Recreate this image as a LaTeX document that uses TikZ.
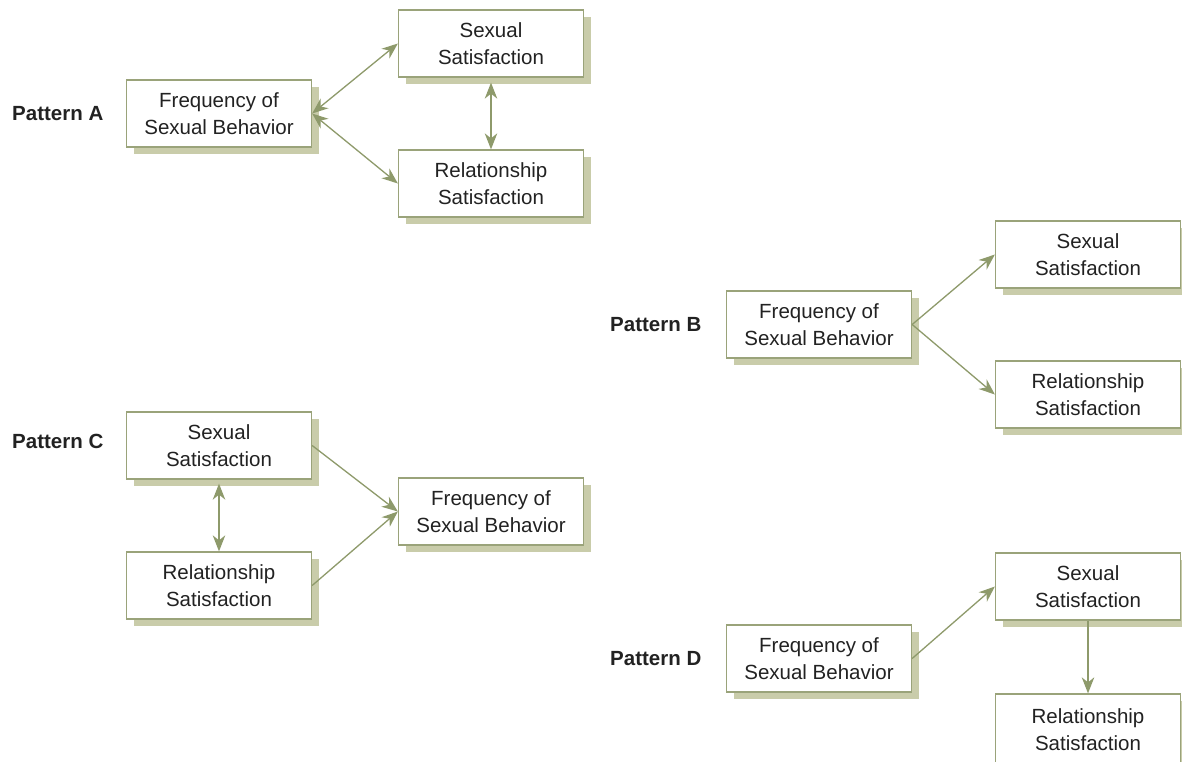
\documentclass[tikz,border=0pt]{standalone}
\usepackage{fontspec}
\setmainfont{Liberation Sans}
\usetikzlibrary{arrows.meta,shadows}
\definecolor{boxc}{HTML}{9AA37A}
\definecolor{shadowc}{HTML}{C9CCAA}
\definecolor{arrc}{HTML}{8E9A6B}
\definecolor{txtc}{HTML}{222222}
\tikzset{
  box/.style={draw=boxc, fill=white, line width=1.3pt, minimum width=185pt,
    minimum height=67pt, inner sep=0pt, align=center, text=txtc,
    font=\fontsize{20.5}{26.5}\selectfont,
    general shadow={fill=shadowc, shadow xshift=7pt, shadow yshift=-7pt}},
  plabel/.style={anchor=west, inner sep=0pt, text=txtc,
    font=\fontsize{20.5}{24}\selectfont\bfseries},
  conn/.style={draw=arrc, line width=1.3pt},
  tip/.style={-{Stealth[length=16pt,width=12.5pt,inset=5pt]}},
  dtip/.style={{Stealth[length=16pt,width=12.5pt,inset=5pt]}-{Stealth[length=16pt,width=12.5pt,inset=5pt]}}
}
\begin{document}
\begin{tikzpicture}[x=1pt,y=-1pt]
\clip (0,0) rectangle (1182,761);
\fill[white] (0,0) rectangle (1182,761);
% Pattern A
\node[plabel] (pa) at (12,114) {Pattern A};
\node[box] (fa) at (219,113.5) {Frequency of\\Sexual Behavior};
\node[box] (sa) at (491,43.5) {Sexual\\Satisfaction};
\node[box] (ra) at (491,183.5) {Relationship\\Satisfaction};
\draw[conn,dtip] (fa.east) -- (sa.west);
\draw[conn,dtip] (fa.east) -- (ra.west);
\draw[conn,dtip,shorten <=5pt] (sa.south) -- (ra.north);
% Pattern B
\node[plabel] (pb) at (610,325) {Pattern B};
\node[box] (fb) at (819,324.5) {Frequency of\\Sexual Behavior};
\node[box] (sb) at (1088,254.5) {Sexual\\Satisfaction};
\node[box] (rb) at (1088,394.5) {Relationship\\Satisfaction};
\draw[conn,tip] (fb.east) -- (sb.west);
\draw[conn,tip] (fb.east) -- (rb.west);
% Pattern C
\node[plabel] (pc) at (12,441) {Pattern C};
\node[box] (sc) at (219,445.5) {Sexual\\Satisfaction};
\node[box] (rc) at (219,585.5) {Relationship\\Satisfaction};
\node[box] (fc) at (491,511.5) {Frequency of\\Sexual Behavior};
\draw[conn,tip] (sc.east) -- (fc.west);
\draw[conn,tip] (rc.east) -- (fc.west);
\draw[conn,dtip,shorten <=4pt] (sc.south) -- (rc.north);
% Pattern D
\node[plabel] (pd) at (610,659) {Pattern D};
\node[box] (fd) at (819,658.5) {Frequency of\\Sexual Behavior};
\node[box] (sd) at (1088,586.5) {Sexual\\Satisfaction};
\node[box, minimum height=71pt] (rd) at (1088,729.5) {Relationship\\Satisfaction};
\draw[conn,tip] (fd.east) -- (sd.west);
\draw[conn,tip] (sd.south) -- (rd.north);
\end{tikzpicture}
\end{document}
